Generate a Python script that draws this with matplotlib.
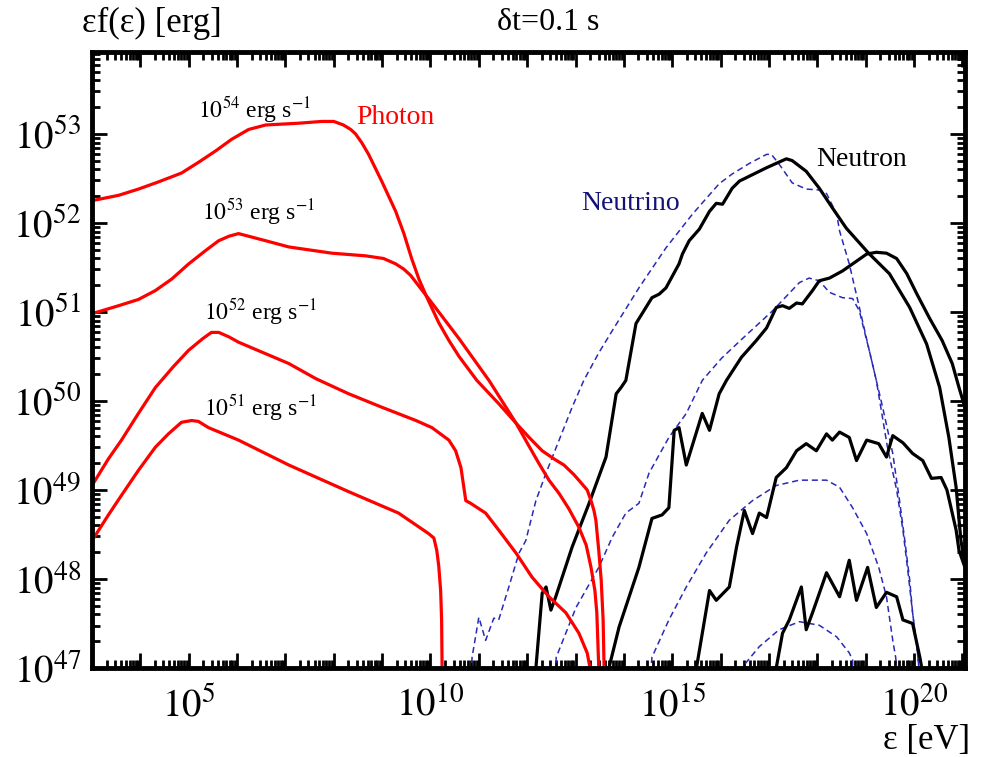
import numpy as np
import matplotlib
matplotlib.use("Agg")
import matplotlib.pyplot as plt
from matplotlib.ticker import LogLocator, FixedLocator, FuncFormatter, NullFormatter

plt.rcParams['font.family'] = ['Liberation Serif', 'DejaVu Serif']
plt.rcParams['mathtext.fontset'] = 'stix'

# all values are log10(energy [eV]) and log10(eps f(eps) [erg])
# photon spectra, one per luminosity
ph54_x = [3.0, 3.55, 3.96, 4.37, 4.85, 5.20, 5.56, 5.89, 6.24, 6.59, 7.27, 7.75, 8.00, 8.20,
          8.35, 8.45, 8.58, 8.72, 8.99, 9.28, 9.45, 9.61, 9.76, 9.92, 10.17, 10.38, 10.59,
          10.96, 11.41, 11.77, 12.04, 12.31, 12.55, 12.76, 12.97, 13.13, 13.24, 13.32, 13.38,
          13.42, 13.48, 13.53, 13.57, 13.59, 13.61]
ph54_y = [52.25, 52.31, 52.38, 52.46, 52.56, 52.68, 52.81, 52.94, 53.05, 53.10, 53.12, 53.14,
          53.14, 53.10, 53.05, 53.00, 52.90, 52.77, 52.47, 52.13, 51.88, 51.60, 51.37, 51.17,
          50.88, 50.68, 50.50, 50.23, 49.97, 49.75, 49.59, 49.44, 49.35, 49.28, 49.17, 49.07,
          49.00, 48.88, 48.77, 48.66, 48.32, 47.99, 47.54, 47.0, 46.5]

ph53_x = [3.0, 3.55, 3.96, 4.31, 4.65, 5.00, 5.35, 5.62, 5.83, 6.03, 6.24, 6.59, 7.07, 7.96,
          8.66, 9.03, 9.28, 9.45, 9.59, 9.76, 9.96, 10.17, 10.59, 11.21, 11.77, 12.04, 12.24,
          12.45, 12.66, 12.86, 13.07, 13.22, 13.32, 13.40, 13.44, 13.48, 13.50]
ph53_y = [50.98, 51.07, 51.14, 51.24, 51.37, 51.54, 51.69, 51.80, 51.85, 51.88, 51.85, 51.80,
          51.73, 51.66, 51.63, 51.60, 51.54, 51.48, 51.41, 51.29, 51.15, 51.00, 50.70, 50.23,
          49.75, 49.49, 49.30, 49.11, 48.96, 48.79, 48.58, 48.38, 48.13, 47.87, 47.62, 47.0,
          46.5]

ph52_x = [3.0, 3.34, 3.61, 3.96, 4.31, 4.69, 5.00, 5.29, 5.47, 5.62, 5.83, 6.03, 6.55, 7.07,
          7.63, 8.31, 8.99, 9.70, 10.03, 10.38, 10.52, 10.63, 10.73, 10.83, 11.14, 11.41,
          11.77, 12.10, 12.45, 12.80, 13.07, 13.24, 13.30, 13.33]
ph52_y = [49.05, 49.35, 49.56, 49.86, 50.15, 50.39, 50.57, 50.70, 50.77, 50.77, 50.72, 50.66,
          50.54, 50.42, 50.25, 50.08, 49.93, 49.78, 49.70, 49.56, 49.44, 49.25, 48.88, 48.85,
          48.74, 48.55, 48.29, 48.02, 47.80, 47.62, 47.39, 47.17, 47.0, 46.5]

ph51_x = [3.0, 3.34, 3.61, 3.96, 4.31, 4.58, 4.85, 5.06, 5.20, 5.41, 6.03, 7.07, 8.31, 9.34,
          9.96, 10.07, 10.13, 10.17, 10.21, 10.23, 10.24, 10.25]
ph51_y = [48.43, 48.72, 48.94, 49.22, 49.48, 49.63, 49.76, 49.78, 49.77, 49.70, 49.56, 49.28,
          48.98, 48.74, 48.51, 48.46, 48.32, 48.15, 47.87, 47.54, 47.0, 46.5]

# neutrino spectra
nu1_x = [10.80, 10.86, 11.00, 11.14, 11.31, 11.41, 11.62, 11.83, 11.97, 12.18, 12.39, 12.66,
         12.93, 13.17, 13.48, 13.76, 14.31, 14.87, 15.42, 15.97, 16.24, 16.60, 16.95, 17.05,
         17.21, 17.48, 17.77, 18.04, 18.19, 18.40, 18.46, 18.66, 18.87, 19.06, 19.22, 19.45,
         19.64, 19.77, 19.87, 19.97, 20.06, 20.10, 20.12]
nu1_y = [46.5, 47.12, 47.57, 47.31, 47.56, 47.54, 47.91, 48.29, 48.43, 48.88, 49.19, 49.56,
         49.93, 50.23, 50.54, 50.79, 51.27, 51.72, 52.10, 52.44, 52.55, 52.67, 52.77, 52.77,
         52.66, 52.45, 52.38, 52.37, 52.33, 52.10, 51.91, 51.54, 51.05, 50.60, 50.23, 49.48,
         49.00, 48.55, 48.10, 47.62, 47.24, 47.0, 46.5]

nu2_x = [12.55, 12.60, 13.01, 13.48, 13.76, 14.04, 14.31, 14.52, 14.93, 15.29, 15.62, 16.02,
         16.45, 17.07, 17.63, 17.83, 18.04, 18.25, 18.52, 18.73, 18.87, 19.02, 19.06, 19.35,
         19.56, 19.70, 19.81, 19.91, 19.97, 20.06, 20.10, 20.12]
nu2_y = [46.5, 47.12, 47.68, 48.13, 48.47, 48.74, 48.85, 49.19, 49.59, 49.86, 50.23, 50.48,
         50.70, 51.01, 51.33, 51.38, 51.35, 51.22, 51.16, 51.15, 51.01, 50.68, 50.60, 49.93,
         49.41, 48.88, 48.43, 47.99, 47.62, 47.24, 47.0, 46.5]

nu3_x = [14.48, 14.58, 14.93, 15.29, 15.70, 16.18, 16.66, 17.15, 17.63, 18.19, 18.46, 18.73,
         19.02, 19.27, 19.43, 19.56, 19.62, 19.64, 19.66]
nu3_y = [46.5, 47.12, 47.54, 47.91, 48.29, 48.66, 48.88, 49.05, 49.11, 49.11, 49.03, 48.80,
         48.51, 48.13, 47.80, 47.31, 47.12, 47.0, 46.5]

nu4_x = [16.42, 16.45, 16.80, 17.21, 17.63, 18.04, 18.40, 18.66, 18.73, 18.76]
nu4_y = [46.5, 47.01, 47.24, 47.43, 47.52, 47.48, 47.35, 47.17, 47.09, 46.5]

# neutron spectra
n1_x = [12.16, 12.18, 12.31, 12.39, 12.49, 12.59, 12.93, 13.28, 13.63, 13.84, 13.94, 14.04,
        14.25, 14.58, 14.73, 14.87, 15.14, 15.21, 15.35, 15.56, 15.77, 15.91, 16.04, 16.24,
        16.39, 16.95, 17.36, 17.48, 17.77, 18.04, 18.31, 18.60, 19.06, 19.49, 19.91, 20.26,
        20.53, 20.72, 20.87, 20.97, 21.04]
n1_y = [46.5, 47.0, 47.84, 47.91, 47.65, 47.80, 48.36, 48.85, 49.37, 50.08, 50.15, 50.23,
        50.87, 51.16, 51.20, 51.27, 51.54, 51.65, 51.80, 51.93, 52.13, 52.22, 52.21, 52.39,
        52.47, 52.62, 52.72, 52.70, 52.58, 52.39, 52.17, 51.94, 51.66, 51.43, 51.05, 50.64,
        50.15, 49.59, 49.03, 48.43, 48.21]

n2_x = [13.66, 13.69, 13.90, 14.31, 14.58, 14.79, 14.93, 15.04, 15.14, 15.29, 15.62, 15.77,
        15.97, 16.12, 16.43, 16.74, 16.95, 17.15, 17.28, 17.42, 17.57, 17.69, 17.90, 18.04,
        18.25, 18.52, 18.81, 19.02, 19.22, 19.43, 19.64, 19.85, 20.06, 20.32, 20.58, 20.79,
        20.93, 21.04]
n2_y = [46.5, 47.0, 47.46, 48.13, 48.68, 48.72, 48.80, 49.67, 49.70, 49.28, 49.86, 49.67,
        50.08, 50.23, 50.49, 50.68, 50.82, 51.05, 51.07, 51.04, 51.10, 51.09, 51.24, 51.35,
        51.38, 51.46, 51.57, 51.65, 51.67, 51.66, 51.60, 51.43, 51.20, 50.93, 50.68, 50.42,
        50.15, 49.95]

n3_x = [15.48, 15.50, 15.77, 15.91, 16.18, 16.33, 16.49, 16.66, 16.80, 16.95, 17.15, 17.36,
        17.57, 17.77, 17.98, 18.19, 18.31, 18.46, 18.66, 18.81, 19.02, 19.27, 19.43, 19.56,
        19.77, 19.97, 20.18, 20.36, 20.56, 20.68, 20.79, 20.87, 20.93, 21.04]
n3_y = [46.5, 47.0, 47.87, 47.76, 47.91, 48.36, 48.77, 48.51, 48.74, 48.69, 49.14, 49.25,
        49.44, 49.52, 49.44, 49.63, 49.56, 49.65, 49.59, 49.33, 49.56, 49.52, 49.37, 49.61,
        49.53, 49.41, 49.33, 49.13, 49.14, 49.00, 48.74, 48.55, 48.32, 48.15]

n4_x = [17.13, 17.15, 17.28, 17.42, 17.67, 17.77, 17.90, 18.19, 18.31, 18.46, 18.66, 18.81,
        19.04, 19.22, 19.43, 19.64, 19.77, 19.97, 20.12, 20.16, 20.18]
n4_y = [46.5, 47.0, 47.39, 47.54, 47.91, 47.43, 47.62, 48.07, 47.95, 47.80, 48.21, 47.76,
        48.13, 47.68, 47.85, 47.80, 47.54, 47.50, 47.12, 47.0, 46.5]

photons = [(ph54_x, ph54_y), (ph53_x, ph53_y), (ph52_x, ph52_y), (ph51_x, ph51_y)]
neutrinos = [(nu1_x, nu1_y), (nu2_x, nu2_y), (nu3_x, nu3_y), (nu4_x, nu4_y)]
neutrons = [(n1_x, n1_y), (n2_x, n2_y), (n3_x, n3_y), (n4_x, n4_y)]
lum_labels = [54, 53, 52, 51]
x_decades = np.arange(3, 22)
y_decades = np.arange(47, 54)

fig = plt.figure(figsize=(9.84, 7.57), dpi=100)
ax = fig.add_axes([0.0935, 0.1176, 0.887, 0.8137])

for x, y in neutrinos:
    ax.plot(10**np.array(x), 10**np.array(y), color='#2a2ab8', lw=1.1, dashes=(4, 2.5))
for x, y in neutrons:
    ax.plot(10**np.array(x), 10**np.array(y), color='black', lw=2.3,
            solid_joinstyle='round')
for x, y in photons:
    ax.plot(10**np.array(x), 10**np.array(y), color='#ff0000', lw=2.3,
            solid_joinstyle='round')

ax.set_xscale('log')
ax.set_yscale('log')
ax.set_xlim(1e3, 10**21.05)
ax.set_ylim(1e47, 10**53.92)

ax.xaxis.set_major_locator(FixedLocator(10.0**x_decades))
ax.xaxis.set_minor_locator(LogLocator(base=10, subs=np.arange(2, 10), numticks=40))
ax.yaxis.set_major_locator(FixedLocator(10.0**y_decades))
ax.yaxis.set_minor_locator(LogLocator(base=10, subs=np.arange(2, 10), numticks=40))
ax.xaxis.set_major_formatter(FuncFormatter(
    lambda v, p: r'$10^{%d}$' % round(np.log10(v)) if round(np.log10(v)) % 5 == 0 else ''))
ax.yaxis.set_major_formatter(FuncFormatter(lambda v, p: r'$10^{%d}$' % round(np.log10(v))))
ax.xaxis.set_minor_formatter(NullFormatter())
ax.yaxis.set_minor_formatter(NullFormatter())

ax.tick_params(which='both', direction='in', top=True, right=True, labelsize=28, width=2)
ax.tick_params(which='major', length=11, pad=8)
ax.tick_params(axis='x', which='major', pad=14)
ax.tick_params(which='minor', length=6)
for s in ax.spines.values():
    s.set_linewidth(3.5)

for lum, (x, y) in zip(lum_labels, [(5.20, 53.18), (5.27, 52.04), (5.31, 50.92), (5.31, 49.84)]):
    ax.text(10**x, 10**y, r'$10^{%d}$ erg s$^{-1}$' % lum, fontsize=17, va='baseline')

ax.text(10**8.47, 10**53.11, 'Photon', color='#ff0000', fontsize=20, va='baseline')
ax.text(10**17.98, 10**52.64, 'Neutron', color='black', fontsize=20, va='baseline')
ax.text(10**13.11, 10**52.15, 'Neutrino', color='#12127a', fontsize=20, va='baseline')

fig.text(0.083, 0.958, 'εf(ε) [erg]', fontsize=25, va='baseline')
fig.text(0.557, 0.960, 'δt=0.1 s', fontsize=23, va='baseline', ha='center')
fig.text(0.986, 0.010, 'ε [eV]', fontsize=25, va='baseline', ha='right')

fig.savefig('out.png', dpi=100)
